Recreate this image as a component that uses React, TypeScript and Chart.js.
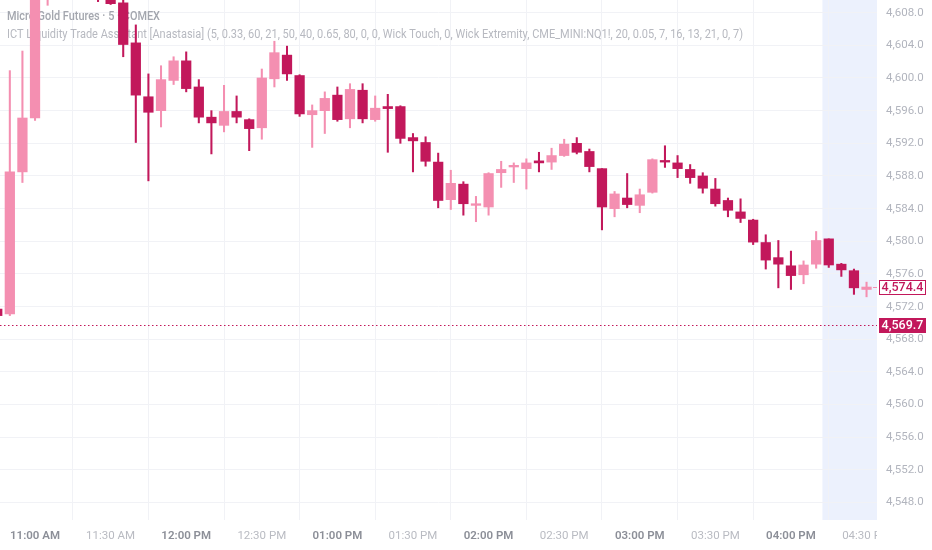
import { useEffect, useRef } from "react";
import { Chart, registerables } from "chart.js";

Chart.register(...registerables);

// 5-minute bars, index 0 = 11:00 AM
const barIndex = [
  -3, -2, -1, 0, 1, 2, 3, 4, 5, 6, 7, 8, 9, 10, 11, 12, 13, 14, 15, 16, 17, 18, 19, 20, 21, 22, 23, 24, 25, 26, 27, 28, 29,
  30, 31, 32, 33, 34, 35, 36, 37, 38, 39, 40, 41, 42, 43, 44, 45, 46, 47, 48, 49, 50, 51, 52, 53, 54, 55, 56, 57, 58, 59,
  60, 61, 62, 63, 64, 65, 66,
];
const opens = [
  4571.7, 4571.1, 4588.5, 4595.1, 4610.8, 4613.0, 4614.5, 4613.2, 4612.4, 4610.5, 4609.2, 4604.3, 4597.7, 4596.0, 4599.7,
  4602.1, 4598.9, 4595.2, 4594.2, 4595.9, 4594.9, 4593.9, 4599.9, 4602.8, 4600.3, 4595.5, 4596.0, 4597.9, 4595.0, 4598.5,
  4594.9, 4596.5, 4596.5, 4592.7, 4592.1, 4589.7, 4585.1, 4587.0, 4584.4, 4584.2, 4588.4, 4589.1, 4588.9, 4589.85, 4589.7,
  4590.5, 4592.0, 4591.0, 4588.9, 4584.0, 4585.3, 4584.4, 4586.0, 4589.9, 4589.6, 4588.8, 4588.0, 4586.4, 4585.0, 4583.6,
  4582.6, 4579.85, 4578.0, 4577.0, 4575.9, 4577.2, 4580.3, 4577.2, 4576.4, 4574.1,
];
const highs = [
  4572.2, 4600.9, 4603.3, 4612.0, 4614.2, 4615.5, 4615.8, 4614.0, 4613.0, 4611.2, 4610.0, 4606.5, 4600.5, 4601.5, 4602.6,
  4603.2, 4599.8, 4596.0, 4599.1, 4597.8, 4595.0, 4601.1, 4604.5, 4603.9, 4600.4, 4596.7, 4598.3, 4598.9, 4599.3, 4599.3,
  4597.8, 4598.0, 4596.6, 4593.2, 4592.8, 4590.8, 4588.7, 4587.3, 4585.5, 4588.4, 4589.8, 4589.6, 4590.1, 4590.9, 4591.4,
  4592.5, 4592.7, 4591.3, 4588.9, 4586.1, 4588.3, 4586.4, 4590.1, 4591.7, 4590.5, 4589.4, 4588.4, 4587.7, 4585.3, 4585.2,
  4582.7, 4580.8, 4580.1, 4578.8, 4577.6, 4581.2, 4580.3, 4577.3, 4576.6, 4575.0,
];
const lows = [
  4570.4, 4570.9, 4587.2, 4594.8, 4608.9, 4612.0, 4612.5, 4611.0, 4609.35, 4609.0, 4602.6, 4592.1, 4587.4, 4594.0, 4599.2,
  4598.3, 4594.5, 4590.7, 4593.4, 4594.5, 4591.1, 4592.5, 4598.9, 4599.7, 4595.3, 4591.5, 4593.2, 4594.7, 4593.9, 4594.5,
  4594.7, 4590.9, 4592.0, 4588.5, 4589.2, 4584.1, 4583.9, 4583.2, 4582.4, 4583.2, 4586.6, 4587.2, 4586.4, 4588.5, 4588.8,
  4590.4, 4590.7, 4588.5, 4581.4, 4583.0, 4584.1, 4583.5, 4585.9, 4589.05, 4587.8, 4587.1, 4585.9, 4584.3, 4583.0, 4582.3,
  4579.6, 4576.6, 4574.3, 4574.1, 4574.8, 4576.7, 4576.8, 4575.7, 4573.5, 4573.2,
];
const closes = [
  4570.9, 4588.5, 4595.1, 4610.8, 4613.0, 4614.5, 4613.2, 4612.4, 4610.5, 4609.1, 4604.1, 4597.9, 4595.8, 4599.8, 4602.1,
  4598.7, 4595.2, 4594.5, 4595.9, 4595.2, 4593.8, 4600.0, 4603.1, 4600.5, 4595.6, 4596.0, 4597.5, 4594.9, 4598.6, 4595.0,
  4596.3, 4596.25, 4592.6, 4592.3, 4589.8, 4585.0, 4587.1, 4584.6, 4584.6, 4588.3, 4588.8, 4589.3, 4589.6, 4589.6, 4590.5,
  4591.9, 4590.9, 4589.15, 4584.2, 4585.8, 4584.5, 4585.7, 4590.0, 4589.7, 4588.9, 4587.8, 4586.5, 4584.6, 4583.8, 4582.8,
  4579.9, 4577.7, 4577.2, 4575.8, 4577.1, 4580.1, 4577.1, 4576.5, 4574.3, 4574.4,
];

const timeTickIndex = [0, 6, 12, 18, 24, 30, 36, 42, 48, 54, 60, 66];
const timeTickLabels = [
  "11:00 AM", "11:30 AM", "12:00 PM", "12:30 PM", "01:00 PM", "01:30 PM",
  "02:00 PM", "02:30 PM", "03:00 PM", "03:30 PM", "04:00 PM", "04:30 PM",
];
const priceTicks = [4548, 4552, 4556, 4560, 4564, 4568, 4572, 4576, 4580, 4584, 4588, 4592, 4596, 4600, 4604, 4608];

const lastPrice = 4574.4;
const markPrice = 4569.7;
const highlightFromIndex = 63;

const headerTitle = "Micro Gold Futures · 5 · COMEX";
const headerStudy =
  "ICT Liquidity Trade Assistant [Anastasia] (5, 0.33, 60, 21, 50, 40, 0.65, 80, 0, 0, Wick Touch, 0, Wick Extremity, CME_MINI:NQ1!, 20, 0.05, 7, 16, 13, 21, 0, 7)";

const UP = "#F48FB1";
const DOWN = "#C2185B";
const FONT = "Roboto, 'Noto Sans', sans-serif";

const fmt = (v: number) =>
  v.toLocaleString("en-US", { minimumFractionDigits: 1, maximumFractionDigits: 1 });

const overlayPlugin = {
  id: "overlay",
  beforeDraw(chart: any) {
    const { ctx, chartArea, scales } = chart;
    const x = scales.x;
    const left = x.getPixelForValue(highlightFromIndex - 0.5);
    ctx.save();
    ctx.fillStyle = "#ECF1FD";
    ctx.fillRect(left, chartArea.top, chartArea.right - left, chartArea.bottom - chartArea.top);
    ctx.restore();
  },
  beforeDatasetsDraw(chart: any) {
    const { ctx } = chart;
    ctx.save();
    ctx.textBaseline = "middle";
    ctx.textAlign = "left";
    ctx.fillStyle = "#A3A6AE";
    ctx.font = `500 12px ${FONT}`;
    ctx.fillText(headerTitle, 7, 17, 153);
    ctx.fillStyle = "#B7B9C0";
    ctx.font = `400 12px ${FONT}`;
    ctx.fillText(headerStudy, 7, 35, 736);
    ctx.restore();
  },
  afterDraw(chart: any) {
    const { ctx, chartArea, scales } = chart;
    const x = scales.x;
    const y = scales.y;

    // mark price dotted line
    const ym = Math.round(y.getPixelForValue(markPrice)) + 0.5;
    ctx.save();
    ctx.strokeStyle = DOWN;
    ctx.lineWidth = 1;
    ctx.setLineDash([1.5, 2.5]);
    ctx.beginPath();
    ctx.moveTo(chartArea.left, ym);
    ctx.lineTo(chartArea.right, ym);
    ctx.stroke();
    ctx.restore();

    // last price stub
    const yl = Math.round(y.getPixelForValue(lastPrice)) + 0.5;
    ctx.save();
    ctx.strokeStyle = UP;
    ctx.lineWidth = 1;
    ctx.beginPath();
    ctx.moveTo(chartArea.right - 4, yl);
    ctx.lineTo(chartArea.right, yl);
    ctx.stroke();
    ctx.restore();

    const boxL = chartArea.right + 2;
    const boxW = 47;
    const boxH = 15;
    ctx.save();
    ctx.font = `500 12.5px ${FONT}`;
    ctx.textAlign = "center";
    ctx.textBaseline = "middle";
    // last price box (outlined)
    ctx.fillStyle = "#FFFFFF";
    ctx.fillRect(boxL, yl - boxH / 2, boxW, boxH);
    ctx.strokeStyle = DOWN;
    ctx.lineWidth = 1;
    ctx.strokeRect(boxL + 0.5, Math.round(yl - boxH / 2) + 0.5, boxW - 1, boxH - 1);
    ctx.fillStyle = DOWN;
    ctx.fillText(fmt(lastPrice), boxL + boxW / 2, yl + 0.5);
    // mark price box (filled)
    ctx.fillStyle = DOWN;
    ctx.fillRect(boxL, ym - boxH / 2, boxW, boxH);
    ctx.fillStyle = "#FFFFFF";
    ctx.fillText(fmt(markPrice), boxL + boxW / 2, ym + 0.5);
    ctx.restore();

    // time axis labels, clipped at the plot's right edge
    ctx.save();
    ctx.beginPath();
    ctx.rect(0, chartArea.bottom, chartArea.right, chart.height - chartArea.bottom);
    ctx.clip();
    ctx.textAlign = "center";
    ctx.textBaseline = "middle";
    timeTickIndex.forEach((t, i) => {
      const hour = t % 12 === 0;
      ctx.font = `${hour ? 600 : 400} 11.5px ${FONT}`;
      ctx.fillStyle = hour ? "#8C8F98" : "#B9BBC2";
      ctx.fillText(timeTickLabels[i], x.getPixelForValue(t), chartArea.bottom + 16);
    });
    ctx.restore();
  },
};

export default function App() {
  const ref = useRef<HTMLCanvasElement>(null);

  useEffect(() => {
    const colors = opens.map((o, i) => (closes[i] >= o ? UP : DOWN));
    const chart = new Chart(ref.current as HTMLCanvasElement, {
      type: "bar",
      data: {
        datasets: [
          {
            label: "body",
            data: barIndex.map((b, i) => ({ x: b, y: [opens[i], closes[i]] })) as any,
            backgroundColor: colors,
            barThickness: 9.6,
            grouped: false,
            minBarLength: 1.5,
            borderWidth: 0,
            borderSkipped: false,
            order: 1,
          } as any,
          {
            label: "wick",
            data: barIndex.map((b, i) => ({ x: b, y: [lows[i], highs[i]] })) as any,
            backgroundColor: colors,
            barThickness: 1.4,
            grouped: false,
            borderWidth: 0,
            borderSkipped: false,
            order: 2,
          } as any,
        ],
      },
      options: {
        responsive: false,
        animation: false,
        layout: { padding: 0 },
        plugins: { legend: { display: false }, tooltip: { enabled: false } },
        scales: {
          x: {
            type: "linear",
            min: -2.78,
            max: 66.83,
            offset: false,
            afterBuildTicks: (s: any) => {
              s.ticks = timeTickIndex.map((v) => ({ value: v }));
            },
            afterFit: (s: any) => {
              s.height = 30;
              s.paddingLeft = 0;
              s.paddingRight = 0;
            },
            ticks: { display: false },
            grid: { color: "#F1F2F6", drawTicks: false },
            border: { display: false },
          },
          y: {
            type: "linear",
            position: "right",
            min: 4545.87,
            max: 4609.55,
            afterBuildTicks: (s: any) => {
              s.ticks = priceTicks.map((v) => ({ value: v }));
            },
            afterFit: (s: any) => {
              s.width = 55;
              s.paddingTop = 0;
              s.paddingBottom = 0;
            },
            ticks: {
              padding: 9,
              color: "#B2B5BE",
              font: { family: FONT, size: 11.5 },
              callback: (v: any) => fmt(Number(v)),
            },
            grid: { color: "#F1F2F6", drawTicks: false },
            border: { display: false },
          },
        },
      } as any,
      plugins: [overlayPlugin],
    });
    return () => chart.destroy();
  }, []);

  return (
    <div style={{ position: "absolute", left: 0, top: 0, width: 932, height: 550, background: "#FFFFFF" }}>
      <canvas ref={ref} width={932} height={550} style={{ display: "block", width: 932, height: 550 }} />
    </div>
  );
}
